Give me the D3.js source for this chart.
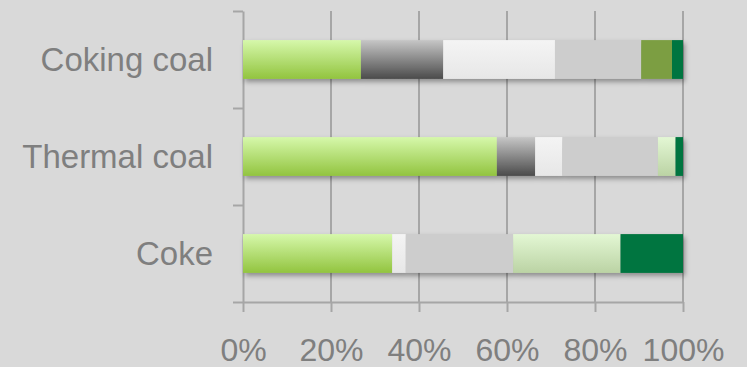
<!DOCTYPE html>
<html>
<head>
<meta charset="utf-8">
<script src="https://cdn.jsdelivr.net/npm/d3@7"></script>
<style>
  html, body { margin: 0; padding: 0; background: #d9d9d9; }
  svg { display: block; }
</style>
</head>
<body>
<div id="chart"></div>
<script>
// categories, top to bottom
const categories = ["Coking coal", "Thermal coal", "Coke"];

// share of each series per category (percent), same order as categories
const seriesKeys = ["s1", "s2", "s3", "s4", "s5", "s6", "s7"];
const s1 = [26.8, 57.7, 33.9];
const s2 = [18.7, 8.7, 0];
const s3 = [25.4, 6.2, 3.1];
const s4 = [19.6, 21.7, 24.4];
const s5 = [7.0, 0, 0];
const s6 = [0, 4.0, 24.4];
const s7 = [2.5, 1.7, 14.2];

const xTicks = [0, 20, 40, 60, 80, 100];

const width = 747, height = 367;
const margin = {top: 11, right: 64, bottom: 65, left: 243};
const font = "Liberation Sans, Arial, sans-serif";

const rows = categories.map((c, i) => ({
    cat: c, s1: s1[i], s2: s2[i], s3: s3[i], s4: s4[i], s5: s5[i], s6: s6[i], s7: s7[i]
}));
const stacked = d3.stack().keys(seriesKeys)(rows);

const x = d3.scaleLinear().domain([0, 100]).range([margin.left, width - margin.right]);
const y = d3.scaleBand().domain(categories).range([margin.top, height - margin.bottom]).paddingInner(0);
const yEdge = d3.scaleLinear().domain([0, categories.length]).range([margin.top, height - margin.bottom]);

const svg = d3.select("#chart").append("svg")
    .attr("width", width)
    .attr("height", height);

svg.append("rect").attr("width", width).attr("height", height).attr("fill", "#d9d9d9");

const defs = svg.append("defs");
function vgrad(id, top, bottom) {
    const g = defs.append("linearGradient").attr("id", id)
        .attr("x1", 0).attr("y1", 0).attr("x2", 0).attr("y2", 1);
    g.append("stop").attr("offset", "0%").attr("stop-color", top);
    g.append("stop").attr("offset", "100%").attr("stop-color", bottom);
}
vgrad("g1", "#d6f8ab", "#92c43f");
vgrad("g2", "#c6c6c6", "#4b4b4b");
vgrad("g3", "#f4f4f4", "#e7e7e7");
vgrad("g6", "#e3f7d4", "#bbd3a4");

const fills = {
    s1: "url(#g1)", s2: "url(#g2)", s3: "url(#g3)", s4: "#cdcdcd",
    s5: "#7b9e42", s6: "url(#g6)", s7: "#007540"
};

defs.append("filter").attr("id", "shadow")
    .attr("x", "-5%").attr("y", "-20%").attr("width", "115%").attr("height", "160%")
  .append("feDropShadow")
    .attr("dx", 2).attr("dy", 3).attr("stdDeviation", 2.5)
    .attr("flood-color", "#000").attr("flood-opacity", 0.35);

// vertical gridlines
svg.append("g")
  .selectAll("line")
  .data(xTicks.slice(1))
  .join("line")
    .attr("x1", d => x(d)).attr("x2", d => x(d))
    .attr("y1", margin.top).attr("y2", height - margin.bottom)
    .attr("stroke", "#a6a6a6")
    .attr("stroke-width", 2);

// x axis
const xAxis = svg.append("g")
    .attr("transform", `translate(0, ${height - margin.bottom})`)
    .call(d3.axisBottom(x).tickValues(xTicks).tickFormat(d => d + "%").tickSize(10).tickPadding(26).tickSizeOuter(0));
xAxis.select(".domain").attr("stroke", "#a6a6a6").attr("stroke-width", 2);
xAxis.selectAll(".tick line").attr("stroke", "#a6a6a6").attr("stroke-width", 2);
xAxis.selectAll(".tick text")
    .attr("fill", "#7f7f7f")
    .style("font-family", font)
    .style("font-size", "32px");

// y axis: ticks at band boundaries
const yAxis = svg.append("g")
    .attr("transform", `translate(${margin.left}, 0)`)
    .call(d3.axisLeft(yEdge).tickValues(d3.range(categories.length + 1)).tickFormat("").tickSize(10).tickSizeOuter(0));
yAxis.select(".domain").attr("stroke", "#a6a6a6").attr("stroke-width", 2);
yAxis.selectAll(".tick line").attr("stroke", "#a6a6a6").attr("stroke-width", 2);

// category labels
svg.append("g")
  .selectAll("text")
  .data(categories)
  .join("text")
    .attr("x", margin.left - 30)
    .attr("y", d => y(d) + y.bandwidth() / 2)
    .attr("dy", "0.36em")
    .attr("text-anchor", "end")
    .attr("fill", "#7f7f7f")
    .style("font-family", font)
    .style("font-size", "33px")
    .text(d => d);

// bars
const barH = y.bandwidth() * 0.4;
svg.append("g")
  .attr("filter", "url(#shadow)")
  .selectAll("g")
  .data(stacked)
  .join("g")
    .attr("fill", d => fills[d.key])
  .selectAll("rect")
  .data(d => d.filter(p => p[1] > p[0]))
  .join("rect")
    .attr("x", d => x(d[0]))
    .attr("width", d => x(d[1]) - x(d[0]))
    .attr("y", d => y(d.data.cat) + (y.bandwidth() - barH) / 2)
    .attr("height", barH);
</script>
</body>
</html>
